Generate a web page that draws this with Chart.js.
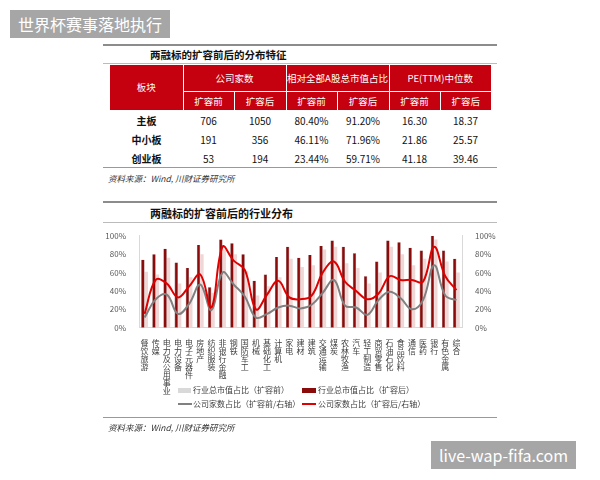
<!DOCTYPE html>
<html>
<head>
<meta charset="utf-8">
<script src="https://cdn.jsdelivr.net/npm/chart.js@4.4.0/dist/chart.umd.min.js"></script>
<style>
  body { margin: 0; background: #fff; font-family: "Noto Sans CJK SC", "Noto Sans", sans-serif; }
  #page { position: relative; width: 600px; height: 480px; overflow: hidden; background: #fff; }
  .tag { position: absolute; background: #a6a6a6; color: #fff; font-size: 16px; line-height: 28px; padding: 0 8px; }
  .rule { position: absolute; left: 103px; width: 394px; background: #8c8c8c; }
  .title { position: absolute; left: 150px; font-weight: bold; color: #111; font-size: 10.5px; }
  .src { position: absolute; left: 108px; font-style: italic; font-size: 8.5px; color: #333; }
  table { position: absolute; left: 110px; top: 65px; border-collapse: collapse; table-layout: fixed; }
  th { background: #c5000f; color: #fff; font-weight: normal; font-size: 9.5px; padding: 0; border: 1px solid #fff; border-top: none; }
  td { font-size: 10px; color: #111; text-align: center; height: 19px; padding: 0; }
  td.b { font-weight: bold; }
  .lg { position: absolute; font-size: 8px; color: #404040; white-space: nowrap; }
  .sw { position: absolute; }
</style>
</head>
<body>
<div id="page">
  <div class="tag" style="left:10px;top:10px;">世界杯赛事落地执行</div>
  <div class="tag" style="left:431px;top:441px;">live-wap-fifa.com</div>

  <div class="rule" style="top:44px;height:2px;"></div>
  <div class="title" style="top:47px;">两融标的扩容前后的分布特征</div>
  <div class="rule" style="top:63px;height:1px;background:#bbb;"></div>
  <table id="tbl">
    <colgroup>
      <col style="width:73px"><col style="width:51px"><col style="width:52px"><col style="width:51px"><col style="width:52px"><col style="width:51px"><col style="width:51px">
    </colgroup>
    <tr style="height:26px"><th rowspan="2" style="border-left:none">板块</th><th colspan="2">公司家数</th><th colspan="2">相对全部A股总市值占比</th><th colspan="2" style="border-right:none">PE(TTM)中位数</th></tr>
    <tr style="height:19px"><th>扩容前</th><th>扩容后</th><th>扩容前</th><th>扩容后</th><th>扩容前</th><th style="border-right:none">扩容后</th></tr>
  </table>
  <div class="rule" style="top:167px;height:1px;background:#999;"></div>
  <div class="src" style="top:172px;">资料来源：Wind, 川财证券研究所</div>

  <div class="rule" style="top:201px;height:2px;"></div>
  <div class="title" style="top:205px;font-size:11px;">两融标的扩容前后的行业分布</div>
  <div class="rule" style="top:222px;height:1px;background:#bbb;"></div>

  <div style="position:absolute;left:100px;top:226px;width:400px;height:176px;">
    <canvas id="chart" width="400" height="176"></canvas>
  </div>

  <div class="sw" style="left:178px;top:388px;width:13px;height:5px;background:#d9d9d9;"></div>
  <div class="lg" style="left:193px;top:384px;">行业总市值占比（扩容前）</div>
  <div class="sw" style="left:302px;top:388px;width:14px;height:5px;background:#8b0a0a;"></div>
  <div class="lg" style="left:318px;top:384px;">行业总市值占比（扩容后）</div>
  <div class="sw" style="left:178px;top:403px;width:14px;height:2px;background:#808080;"></div>
  <div class="lg" style="left:193px;top:398px;">公司家数占比（扩容前/右轴）</div>
  <div class="sw" style="left:302px;top:403px;width:14px;height:2px;background:#e00000;"></div>
  <div class="lg" style="left:318px;top:398px;">公司家数占比（扩容后/右轴）</div>

  <div class="rule" style="top:417px;height:1px;background:#999;"></div>
  <div class="src" style="top:421px;">资料来源：Wind, 川财证券研究所</div>
</div>

<script>
// table data
const boards = ["主板", "中小板", "创业板"];
const firmsBefore = ["706", "191", "53"];
const firmsAfter = ["1050", "356", "194"];
const capShareBefore = ["80.40%", "46.11%", "23.44%"];
const capShareAfter = ["91.20%", "71.96%", "59.71%"];
const peBefore = ["16.30", "21.86", "41.18"];
const peAfter = ["18.37", "25.57", "39.46"];

// chart data (in %)
const industries = ["餐饮旅游", "传媒", "电力及公用事业", "电力设备", "电子元器件", "房地产", "纺织服装", "非银行金融", "钢铁", "国防军工", "机械", "基础化工", "计算机", "家电", "建材", "建筑", "交通运输", "煤炭", "农林牧渔", "汽车", "轻工制造", "商贸零售", "石油石化", "食品饮料", "通信", "医药", "银行", "有色金属", "综合"];
const mktCapBefore = [61, 58, 76, 48, 55, 80, 38, 85, 80, 62, 35, 45, 55, 75, 66, 68, 85, 88, 70, 65, 48, 60, 88, 80, 68, 75, 96, 72, 60];
const mktCapAfter = [74, 80, 86, 71, 65, 90, 44, 96, 92, 80, 51, 58, 77, 88, 76, 79, 89, 95, 88, 81, 56, 72, 95, 93, 87, 84, 100, 84, 75];
const firmShareBefore = [11, 31, 36, 15, 26, 47, 19, 60, 47, 34, 11, 15, 22, 24, 21, 25, 38, 52, 24, 22, 14, 30, 39, 32, 20, 30, 68, 35, 30];
const firmShareAfter = [15, 52, 48, 33, 45, 58, 22, 88, 73, 63, 20, 36, 51, 33, 31, 35, 60, 72, 50, 40, 31, 37, 56, 52, 52, 50, 88, 56, 41];

// fill table body
const tbl = document.getElementById("tbl");
boards.forEach((b, i) => {
  const tr = document.createElement("tr");
  [b, firmsBefore[i], firmsAfter[i], capShareBefore[i], capShareAfter[i], peBefore[i], peAfter[i]].forEach((v, j) => {
    const td = document.createElement("td");
    td.textContent = v;
    if (j === 0) td.className = "b";
    tr.appendChild(td);
  });
  tbl.appendChild(tr);
});

const pct = (v) => v + "%";
const tickFont = { family: "'Noto Sans CJK SC', sans-serif", size: 8 };

new Chart(document.getElementById("chart").getContext("2d"), {
  type: "bar",
  data: {
    labels: industries.map((s) => s.split("")),
    datasets: [
      {
        type: "line",
        label: "公司家数占比（扩容后/右轴）",
        data: firmShareAfter,
        yAxisID: "y1",
        borderColor: "#e00000",
        borderWidth: 2,
        pointRadius: 0,
        tension: 0.4,
        order: 1,
      },
      {
        type: "line",
        label: "公司家数占比（扩容前/右轴）",
        data: firmShareBefore,
        yAxisID: "y1",
        borderColor: "#808080",
        borderWidth: 2,
        pointRadius: 0,
        tension: 0.4,
        order: 2,
      },
      {
        label: "行业总市值占比（扩容前）",
        data: mktCapBefore,
        yAxisID: "y",
        backgroundColor: "#f1d6d6",
        order: 4,
      },
      {
        label: "行业总市值占比（扩容后）",
        data: mktCapAfter,
        yAxisID: "y",
        backgroundColor: "#8b0a0a",
        borderColor: "#5a0000",
        borderWidth: { left: 0.5, right: 0.5 },
        order: 3,
      },
    ],
  },
  options: {
    responsive: false,
    animation: false,
    devicePixelRatio: 1,
    layout: { padding: { top: 4, bottom: 0, left: 0, right: 0 } },
    datasets: { bar: { categoryPercentage: 0.62, barPercentage: 0.95 } },
    plugins: { legend: { display: false }, tooltip: { enabled: false } },
    scales: {
      x: {
        grid: { display: false },
        border: { display: true, color: "#d9d9d9" },
        ticks: {
          autoSkip: false,
          maxRotation: 0,
          minRotation: 0,
          padding: 3,
          color: "#404040",
          font: { ...tickFont, lineHeight: 1.0 },
        },
        afterFit: (s) => { s.height = 74.3; },
      },
      y: {
        position: "left",
        min: 0,
        max: 100,
        ticks: { stepSize: 20, callback: pct, color: "#595959", font: tickFont, padding: 5 },
        grid: { display: false },
        border: { display: true, color: "#d9d9d9" },
        afterFit: (s) => { s.width = 39; },
      },
      y1: {
        position: "right",
        min: 0,
        max: 100,
        ticks: { stepSize: 20, callback: pct, color: "#595959", font: tickFont, padding: 5 },
        grid: { display: false },
        border: { display: true, color: "#d9d9d9" },
        afterFit: (s) => { s.width = 38; },
      },
    },
  },
});
</script>
</body>
</html>
